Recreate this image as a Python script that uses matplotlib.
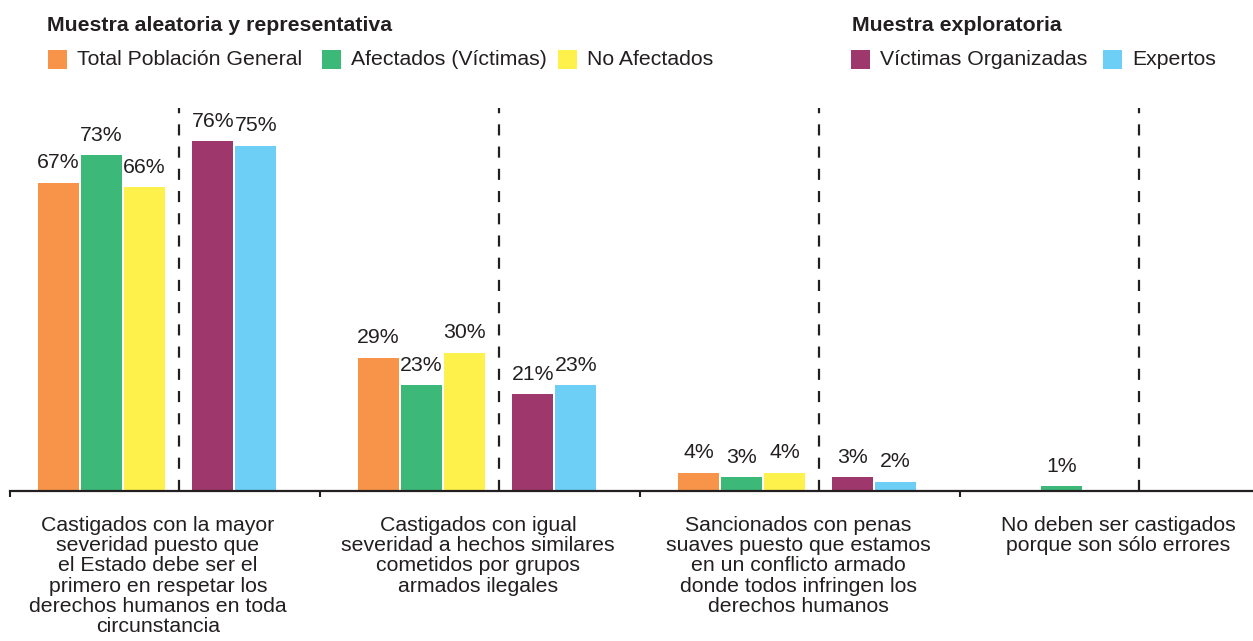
import matplotlib
matplotlib.use("Agg")
import matplotlib.pyplot as plt
from matplotlib.patches import Rectangle
import numpy as np

plt.rcParams['font.family'] = ['Liberation Sans', 'DejaVu Sans']

# ---------------- data ----------------
categories = [
    "Castigados con la mayor\nseveridad puesto que\nel Estado debe ser el\nprimero en respetar los\nderechos humanos en toda\ncircunstancia",
    "Castigados con igual\nseveridad a hechos similares\ncometidos por grupos\narmados ilegales",
    "Sancionados con penas\nsuaves puesto que estamos\nen un conflicto armado\ndonde todos infringen los\nderechos humanos",
    "No deben ser castigados\nporque son sólo errores",
]
total_poblacion = [67, 29, 4, None]
afectados = [73, 23, 3, 1]
no_afectados = [66, 30, 4, None]
victimas_org = [76, 21, 3, None]
expertos = [75, 23, 2, None]

series_names = ["Total Población General", "Afectados (Víctimas)", "No Afectados",
                "Víctimas Organizadas", "Expertos"]
series_values = [total_poblacion, afectados, no_afectados, victimas_org, expertos]
colors = ["#F7944A", "#3CB878", "#FFF14C", "#9E376B", "#6DCFF6"]
header_left = "Muestra aleatoria y representativa"
header_right = "Muestra exploratoria"

TXT = "#231f20"
FS = 15.3
W, H = 1253, 641
fig = plt.figure(figsize=(W / 100, H / 100), dpi=100)

# axes placed in pixel terms
ax_left, ax_right, ax_bottom, ax_top = 10, 1253, 491, 108
ax = fig.add_axes([ax_left / W, 1 - ax_bottom / H, (ax_right - ax_left) / W, (ax_bottom - ax_top) / H])

unit = 320.0  # px per group
bw = 41 / unit
pitch = 43 / unit
offsets = [0, pitch, 2 * pitch, 0.482, 0.482 + pitch]
dash_off = 0.44

x = np.arange(len(categories))
for s, (vals, col) in enumerate(zip(series_values, colors)):
    for i, v in enumerate(vals):
        if v is None:
            continue
        xi = x[i] + offsets[s]
        ax.bar(xi, v, width=bw, align='edge', color=col, linewidth=0)
        ax.annotate(f"{v}%", xy=(xi + bw / 2, v), xytext=(0, 10.5), textcoords='offset points',
                    ha='center', va='baseline', fontsize=FS, color=TXT)

for i in x:
    ax.axvline(i + dash_off, color=TXT, lw=1.6, linestyle=(0, (5, 5)), zorder=3)

xl = (ax_left - 38) / unit
xr = (ax_right - 38) / unit
ax.set_xlim(xl, xr)
ax.set_ylim(0, (ax_bottom - ax_top) / 4.6)

for s in ['top', 'right', 'left']:
    ax.spines[s].set_visible(False)
ax.spines['bottom'].set_color(TXT)
ax.spines['bottom'].set_linewidth(1.6)
ax.set_yticks([])
ax.set_xticks([xl] + [i - 0.12 for i in x[1:]])
ax.set_xticklabels([])
ax.tick_params(axis='x', direction='out', length=4, width=1.5, color=TXT)

for i, lab in enumerate(categories):
    ax.annotate(lab, xy=(x[i] + 0.375, 0), xycoords=('data', 'axes fraction'),
                xytext=(0, -18), textcoords='offset points', ha='center', va='top',
                fontsize=FS, color=TXT, linespacing=1.08)

# ---------------- custom legend ----------------
def legend_row(lefts, items):
    for xp, (name, col) in zip(lefts, items):
        fig.add_artist(Rectangle((xp / W, 1 - 69 / H), 19 / W, 19 / H,
                                 transform=fig.transFigure, color=col, lw=0))
        fig.text((xp + 29) / W, 1 - 65 / H, name, fontsize=FS, color=TXT,
                 ha='left', va='baseline')

fig.text(47 / W, 1 - 31 / H, header_left, fontsize=FS, fontweight='bold', color=TXT,
         ha='left', va='baseline')
fig.text(852 / W, 1 - 31 / H, header_right, fontsize=FS, fontweight='bold', color=TXT,
         ha='left', va='baseline')
legend_row([48, 322, 558], list(zip(series_names[:3], colors[:3])))
legend_row([851, 1103], list(zip(series_names[3:], colors[3:])))

fig.savefig("out.png", dpi=100)
